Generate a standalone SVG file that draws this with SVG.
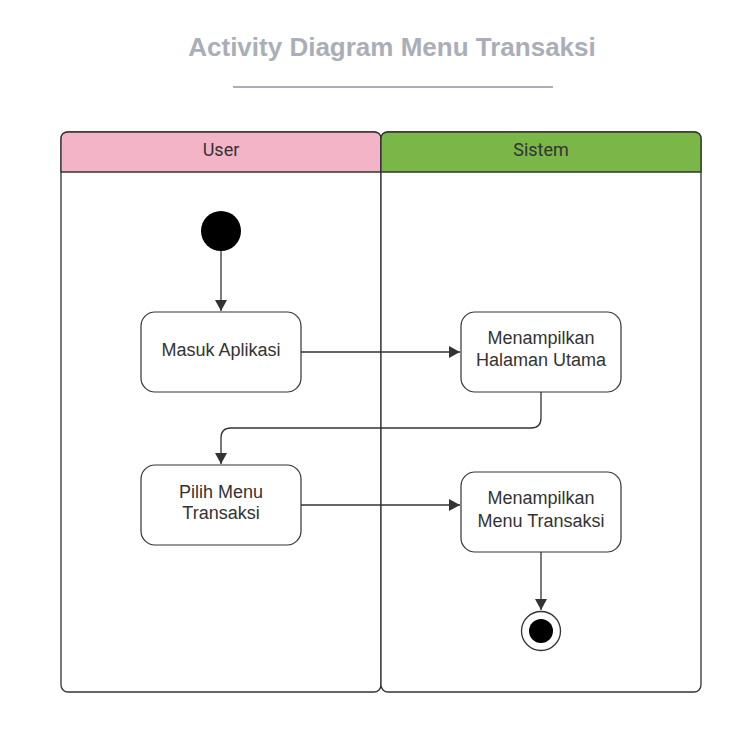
<svg xmlns="http://www.w3.org/2000/svg" width="750" height="729" viewBox="0 0 750 729">
<defs>
<marker id="arr" markerWidth="12" markerHeight="12" refX="11" refY="6" orient="auto" markerUnits="userSpaceOnUse">
<path d="M0,0 L11,6 L0,12 Z" fill="#333333"/>
</marker>
<style>
.lane{fill:#ffffff;stroke:#333333;stroke-width:1.3}
.hdr{stroke:#333333;stroke-width:1.3}
.node{fill:#ffffff;stroke:#333333;stroke-width:1.2}
.t{font-family:"Liberation Sans",Arial,sans-serif;font-size:18px;fill:#333333;text-anchor:middle}
.h{font-family:Roboto,"Liberation Sans",Arial,sans-serif;font-size:18px;fill:#333333;text-anchor:middle}
.title{font-family:"Liberation Sans",Arial,sans-serif;font-size:26px;font-weight:bold;fill:#a9aeb8;text-anchor:middle}
.conn{fill:none;stroke:#333333;stroke-width:1.3}
</style>
</defs>
<rect width="750" height="729" fill="#ffffff"/>
<g id="title">
<text class="title" x="392" y="56">Activity Diagram Menu Transaksi</text>
<line x1="233" y1="87" x2="553" y2="87" stroke="#a9aeb8" stroke-width="2"/>
</g>
<g id="lane-user">
<rect class="lane" x="61" y="132" width="320" height="560" rx="7"/>
<path class="hdr" d="M61,172 L61,139 Q61,132 68,132 L374,132 Q381,132 381,139 L381,172 Z" fill="#f4b4c8"/>
<text class="h" x="221" y="156">User</text>
</g>
<g id="lane-sistem">
<rect class="lane" x="381" y="132" width="320" height="560" rx="7"/>
<path class="hdr" d="M381,172 L381,139 Q381,132 388,132 L694,132 Q701,132 701,139 L701,172 Z" fill="#7ab648"/>
<text class="h" x="541" y="156">Sistem</text>
</g>
<g id="connectors">
<line class="conn" x1="221" y1="251" x2="221" y2="311" marker-end="url(#arr)"/>
<line class="conn" x1="301" y1="352" x2="460" y2="352" marker-end="url(#arr)"/>
<path class="conn" d="M541,392 L541,418 Q541,428 531,428 L231,428 Q221,428 221,438 L221,464" marker-end="url(#arr)"/>
<line class="conn" x1="301" y1="505" x2="460" y2="505" marker-end="url(#arr)"/>
<line class="conn" x1="541" y1="552" x2="541" y2="610" marker-end="url(#arr)"/>
</g>
<g id="start">
<circle cx="221" cy="231" r="20" fill="#000000"/>
</g>
<g id="masuk-aplikasi">
<rect class="node" x="141" y="312" width="160" height="80" rx="14"/>
<text class="t" x="221" y="356">Masuk Aplikasi</text>
</g>
<g id="menampilkan-halaman-utama">
<rect class="node" x="461" y="312" width="160" height="80" rx="14"/>
<text class="t" x="541" y="344">Menampilkan</text>
<text class="t" x="541" y="366">Halaman Utama</text>
</g>
<g id="pilih-menu-transaksi">
<rect class="node" x="141" y="465" width="160" height="80" rx="14"/>
<text class="t" x="221" y="498">Pilih Menu</text>
<text class="t" x="221" y="519">Transaksi</text>
</g>
<g id="menampilkan-menu-transaksi">
<rect class="node" x="461" y="472" width="160" height="80" rx="14"/>
<text class="t" x="541" y="504">Menampilkan</text>
<text class="t" x="541" y="527">Menu Transaksi</text>
</g>
<g id="end">
<circle cx="541" cy="631" r="19.5" fill="#ffffff" stroke="#333333" stroke-width="1.3"/>
<circle cx="541" cy="631" r="12" fill="#000000"/>
</g>
</svg>
